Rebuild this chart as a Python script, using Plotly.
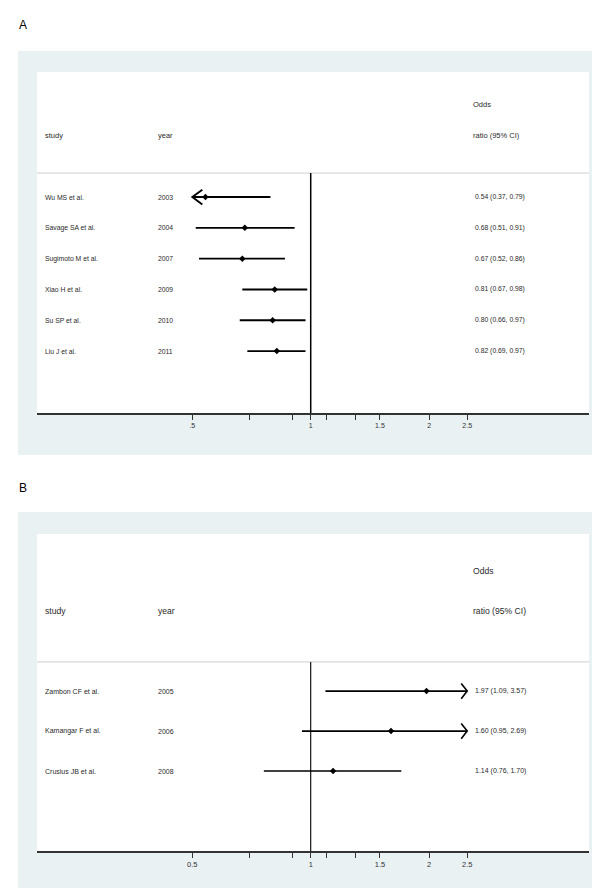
import math
import plotly.graph_objects as go

# ---------------- data ----------------
studies_A = ["Wu MS et al.", "Savage SA et al.", "Sugimoto M et al.", "Xiao H et al.", "Su SP et al.", "Liu J et al."]
years_A = ["2003", "2004", "2007", "2009", "2010", "2011"]
or_A = [0.54, 0.68, 0.67, 0.81, 0.80, 0.82]
lo_A = [0.37, 0.51, 0.52, 0.67, 0.66, 0.69]
hi_A = [0.79, 0.91, 0.86, 0.98, 0.97, 0.97]

studies_B = ["Zambon CF et al.", "Kamangar F et al.", "Crusius JB et al."]
years_B = ["2005", "2006", "2008"]
or_B = [1.97, 1.60, 1.14]
lo_B = [1.09, 0.95, 0.76]
hi_B = [3.57, 2.69, 1.70]

tick_vals = [0.5, 0.7, 0.9, 1, 1.1, 1.3, 1.5, 2, 2.5]
tick_text_A = [".5", "", "", "1", "", "", "1.5", "2", "2.5"]
tick_text_B = ["0.5", "", "", "1", "", "", "1.5", "2", "2.5"]

# ---------------- layout constants ----------------
W, H = 600, 889
X_MIN, X_MAX = 0.2014, 5.10          # visible odds-ratio range of the x axis
DX0, DX1 = 29, 581                   # plot region left/right (px)
FONT = "Liberation Sans, Arial, sans-serif"
BLUE = "#e9f1f3"

def px(x):
    return x / W

def py(y):
    return 1 - y / H

PX_PER_LN = (DX1 - DX0) / (math.log(X_MAX) - math.log(X_MIN))

panels = [
    dict(name="A", studies=studies_A, years=years_A, est=or_A, lo=lo_A, hi=hi_A,
         ticktext=tick_text_A, xa="x", ya="y", top=64, bottom=405, yr=[-1.01, 10.06],
         hline=6.78, odds_y=9, head_y=8, box=(10, 43, 593, 447), label_y=17,
         fs_row=6.8, fs_head=7.5, fs_tick=7, arm_px=10, arm_dy=0.24, lw=1.9, vlw=1.5),
    dict(name="B", studies=studies_B, years=years_B, est=or_B, lo=lo_B, hi=hi_B,
         ticktext=tick_text_B, xa="x2", ya="y2", top=526, bottom=843, yr=[-1.0, 6.93],
         hline=3.73, odds_y=6, head_y=5, box=(10, 504, 593, 880), label_y=480,
         fs_row=7.0, fs_head=8.6, fs_tick=7.5, arm_px=6, arm_dy=0.19, lw=1.6, vlw=1.1),
]

fig = go.Figure()
shapes = []
annotations = []
lo_clip, hi_clip = min(tick_vals), max(tick_vals)

for p in panels:
    n = len(p["studies"])
    ys = [n - i for i in range(n)]
    # CI lines (clipped to tick range) and arrow heads
    lx, ly, ax, ay = [], [], [], []
    for y, lo, hi in zip(ys, p["lo"], p["hi"]):
        a, b = max(lo, lo_clip), min(hi, hi_clip)
        lx += [a, b, None]
        ly += [y, y, None]
        if lo < lo_clip:
            back = lo_clip * math.exp(p["arm_px"] / PX_PER_LN)
            ax += [back, lo_clip, back, None]
            ay += [y + p["arm_dy"], y, y - p["arm_dy"], None]
        if hi > hi_clip:
            back = hi_clip * math.exp(-p["arm_px"] / PX_PER_LN)
            ax += [back, hi_clip, back, None]
            ay += [y + p["arm_dy"], y, y - p["arm_dy"], None]
    fig.add_trace(go.Scatter(x=lx, y=ly, mode="lines", xaxis=p["xa"], yaxis=p["ya"],
                             line=dict(color="black", width=p["lw"]), hoverinfo="skip",
                             showlegend=False))
    if ax:
        fig.add_trace(go.Scatter(x=ax, y=ay, mode="lines", xaxis=p["xa"], yaxis=p["ya"],
                                 line=dict(color="black", width=p["lw"]), hoverinfo="skip",
                                 showlegend=False))
    fig.add_trace(go.Scatter(x=p["est"], y=ys, mode="markers", xaxis=p["xa"], yaxis=p["ya"],
                             marker=dict(symbol="diamond", size=5, color="black"),
                             showlegend=False))

    # background boxes
    x0, y0, x1, y1 = p["box"]
    shapes.append(dict(type="rect", xref="paper", yref="paper", x0=px(x0), x1=px(x1),
                       y0=py(y1), y1=py(y0), fillcolor=BLUE, line=dict(width=0), layer="below"))
    shapes.append(dict(type="rect", xref="paper", yref="paper", x0=px(DX0), x1=px(DX1),
                       y0=py(p["bottom"]), y1=py(p["top"]), fillcolor="white",
                       line=dict(width=0), layer="below"))
    # header separator line
    shapes.append(dict(type="line", xref=p["xa"] + " domain", yref=p["ya"], x0=0, x1=1,
                       y0=p["hline"], y1=p["hline"], line=dict(color="#cfcfcf", width=1)))
    # null line at OR = 1
    shapes.append(dict(type="line", xref=p["xa"], yref=p["ya"], x0=1, x1=1,
                       y0=p["yr"][0], y1=p["hline"], line=dict(color="black", width=p["vlw"])))

    # column text
    def txt(x, y, s, size):
        annotations.append(dict(x=px(x), y=y, xref="paper", yref=p["ya"], text=s,
                                showarrow=False, xanchor="left", yanchor="middle",
                                font=dict(family=FONT, size=size, color="#2a2a2a")))
    txt(35, p["head_y"], "study", p["fs_head"])
    txt(148, p["head_y"], "year", p["fs_head"])
    txt(463, p["odds_y"], "Odds", p["fs_head"])
    txt(463, p["head_y"], "ratio (95% CI)", p["fs_head"])
    for y, s, yr_, e, lo, hi in zip(ys, p["studies"], p["years"], p["est"], p["lo"], p["hi"]):
        txt(35, y, s, p["fs_row"])
        txt(148, y, yr_, p["fs_row"])
        txt(465, y, f"{e:.2f} ({lo:.2f}, {hi:.2f})", p["fs_row"])

    # panel letter
    annotations.append(dict(x=px(9), y=py(p["label_y"]), xref="paper", yref="paper",
                            text=p["name"], showarrow=False, xanchor="left", yanchor="middle",
                            font=dict(family=FONT, size=12, color="black")))

xaxis_common = dict(type="log", range=[math.log10(X_MIN), math.log10(X_MAX)],
                    domain=[px(DX0), px(DX1)], tickvals=tick_vals, showgrid=False,
                    zeroline=False, showline=True, linecolor="#333", linewidth=1.5,
                    ticks="outside", ticklen=5, tickwidth=1, tickcolor="#333",
                    fixedrange=True)
yaxis_common = dict(showgrid=False, zeroline=False, showticklabels=False, showline=False,
                    ticks="", fixedrange=True)

pA, pB = panels
fig.update_layout(
    width=W, height=H, margin=dict(l=0, r=0, t=0, b=0),
    paper_bgcolor="white", plot_bgcolor="rgba(0,0,0,0)",
    showlegend=False,
    xaxis=dict(xaxis_common, anchor="y", ticktext=pA["ticktext"],
               tickfont=dict(family=FONT, size=pA["fs_tick"], color="#333")),
    yaxis=dict(yaxis_common, anchor="x", range=pA["yr"],
               domain=[py(pA["bottom"]), py(pA["top"])]),
    xaxis2=dict(xaxis_common, anchor="y2", ticktext=pB["ticktext"],
                tickfont=dict(family=FONT, size=pB["fs_tick"], color="#333")),
    yaxis2=dict(yaxis_common, anchor="x2", range=pB["yr"],
                domain=[py(pB["bottom"]), py(pB["top"])]),
    shapes=shapes, annotations=annotations,
)

fig.write_html("out.html")
